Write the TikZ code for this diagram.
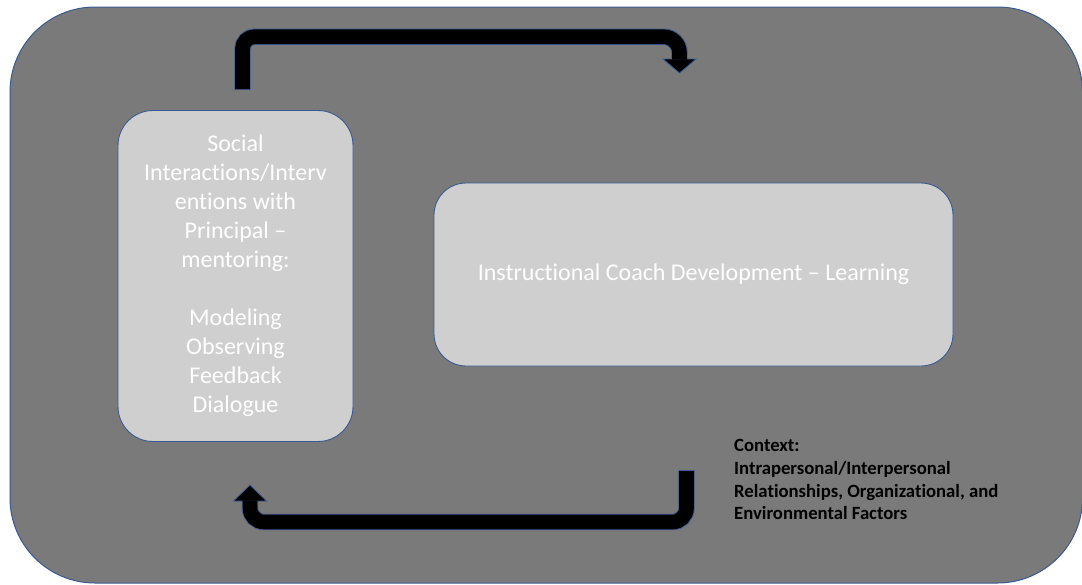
\documentclass[tikz,border=0pt]{standalone}
\usepackage{fontspec}
\setmainfont{Carlito}[Ligatures=NoCommon]
\usetikzlibrary{calc}
\definecolor{bgray}{HTML}{7A7A7A}
\definecolor{boxfill}{HTML}{CFCFCF}
\definecolor{edgeblue}{HTML}{3B5A92}
\begin{document}
\begin{tikzpicture}[x=1pt,y=-1pt,
  frame/.style={draw=edgeblue,line width=1pt,fill=bgray,rounded corners=85pt},
  stagebox/.style={draw=edgeblue,line width=0.9pt,fill=boxfill,inner sep=0pt,
    text=white,align=center,font=\fontsize{24}{29}\selectfont},
  ctxtext/.style={inner sep=0pt,align=left,text=black,
    font=\fontsize{18.7}{22.6}\selectfont\bfseries},
  arrowedge/.style={draw=edgeblue,line width=16.4pt},
  arrowcore/.style={draw=black,line width=14.6pt},
  arrowhead/.style={fill=black,draw=edgeblue,line width=0.8pt,line join=miter}]
\useasboundingbox (0,0) rectangle (1082,584);
\draw[frame] (10,7) rectangle (1082.5,583);

\node[stagebox,rounded corners=35pt,minimum width=235pt,minimum height=331pt] (social) at (235.5,276)
  {Social\\Interactions/Interv\\entions with\\Principal –\\mentoring:\\[29pt]Modeling\\Observing\\Feedback\\Dialogue};
\node[stagebox,rounded corners=32pt,minimum width=519pt,minimum height=183pt] (coach) at (693.5,274.5)
  {Instructional Coach Development – Learning};
\node[ctxtext,anchor=north west] (context) at (734,439.5)
  {Context:\\Intrapersonal/Interpersonal\\Relationships, Organizational, and\\Environmental Factors};

% top arrow: from social box towards coach box
\coordinate (t0) at (242.5,89.8);
\coordinate (t1) at (242.5,36.7);
\coordinate (t2) at (679.5,36.7);
\coordinate (t3) at (679.5,59);
\coordinate (ttip) at (679.5,73);
\draw[arrowedge] (t0) [rounded corners=12pt] -- (t1) [rounded corners=16pt] -- (t2) [sharp corners] -- (t3);
\filldraw[arrowhead] ($(t3)+(-16.5,0)$) -- (ttip) -- ($(t3)+(16.5,0)$) -- cycle;
\draw[arrowcore] ($(t0)+(0,-0.8)$) [rounded corners=12pt] -- (t1) [rounded corners=16pt] -- (t2) [sharp corners] -- ($(t3)+(0,0.7)$);

% bottom arrow: from coach box back to social box
\coordinate (b0) at (686.5,470.2);
\coordinate (b1) at (686.5,522);
\coordinate (b2) at (250,522);
\coordinate (b3) at (250,501);
\coordinate (btip) at (250,485);
\draw[arrowedge] (b0) [rounded corners=14pt] -- (b1) [rounded corners=14pt] -- (b2) [sharp corners] -- (b3);
\filldraw[arrowhead] ($(b3)+(-16.5,0)$) -- (btip) -- ($(b3)+(16.5,0)$) -- cycle;
\draw[arrowcore] ($(b0)+(0,0.8)$) [rounded corners=14pt] -- (b1) [rounded corners=14pt] -- (b2) [sharp corners] -- ($(b3)+(0,-0.7)$);
\end{tikzpicture}
\end{document}
